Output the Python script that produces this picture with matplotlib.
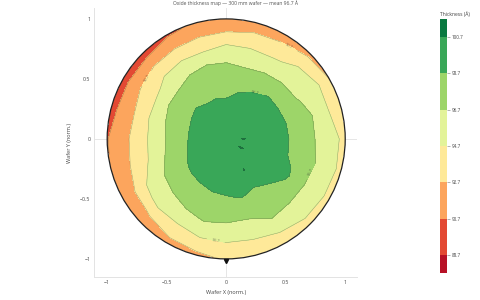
import numpy as np
import matplotlib
matplotlib.use("Agg")
import matplotlib.pyplot as plt
from matplotlib.colors import ListedColormap, BoundaryNorm, Normalize
from matplotlib.patches import Circle

plt.rcParams['font.family'] = ['Open Sans', 'DejaVu Sans']

# ---- data ----
title_text = "Oxide thickness map \u2014 300 mm wafer \u2014 mean 96.7 \u00c5"
levels = [87.7, 88.7, 90.7, 92.7, 94.7, 96.7, 98.7, 100.7, 101.7]
tick_values = [88.7, 90.7, 92.7, 94.7, 96.7, 98.7, 100.7]
angles_deg = [0, 15, 30, 45, 60, 75, 90, 105, 120, 135, 150, 165,
              180, 195, 210, 225, 240, 255, 270, 285, 300, 315, 330, 345]
radii = [0.0, 0.15, 0.3, 0.4, 0.5, 0.6, 0.7, 0.8, 0.9, 0.95, 1.0]
center_thickness = 100.1
ring_thickness = [
    [100.8, 99.35, 99.1, 98.85, 98.3, 97.3, 96.0, 95.4, 94.7, 93.93],
    [99.72, 99.34, 99.08, 98.83, 98.14, 97.4, 96.0, 94.6, 94.37, 93.53],
    [99.7, 99.29, 99.02, 98.75, 97.3, 96.52, 95.9, 94.7, 93.7, 92.7],
    [99.68, 99.26, 98.98, 98.7, 97.16, 96.4, 95.15, 94.3, 93.03, 92.2],
    [99.63, 99.17, 98.86, 98.5, 97.12, 95.95, 94.4, 93.16, 92.39, 91.62],
    [99.58, 99.05, 98.7, 97.93, 96.8, 96.03, 94.37, 93.0, 92.0, 91.3],
    [99.5, 98.9, 98.38, 98.0, 97.09, 95.97, 94.5, 92.56, 91.98, 91.38],
    [99.52, 98.93, 98.41, 97.7, 97.3, 95.7, 93.7, 92.41, 91.69, 90.99],
    [99.53, 98.97, 98.2, 97.66, 96.86, 95.7, 93.78, 92.15, 91.24, 90.4],
    [99.55, 99.0, 98.52, 97.61, 96.3, 95.16, 93.9, 91.81, 90.7, 89.95],
    [99.52, 98.93, 98.3, 97.6, 96.08, 94.3, 93.23, 91.61, 90.7, 89.95],
    [99.48, 98.86, 98.07, 97.02, 95.9, 94.23, 92.7, 91.53, 90.7, 89.95],
    [99.46, 98.83, 98.2, 96.81, 95.31, 94.3, 92.92, 91.56, 91.2, 90.6],
    [99.52, 98.93, 98.28, 97.23, 95.6, 94.45, 93.2, 91.78, 91.3, 90.8],
    [99.56, 99.02, 98.6, 97.3, 96.7, 95.45, 94.4, 92.37, 91.53, 91.2],
    [99.6, 99.1, 98.77, 98.0, 97.13, 95.8, 94.94, 92.8, 92.24, 91.47],
    [99.63, 99.17, 98.86, 98.25, 97.6, 96.35, 94.9, 93.61, 92.7, 91.95],
    [99.66, 99.22, 98.93, 98.51, 97.56, 96.9, 95.41, 94.03, 92.9, 92.4],
    [99.67, 99.24, 98.96, 98.6, 97.3, 96.7, 95.7, 94.13, 93.5, 92.9],
    [99.7, 99.29, 99.02, 98.75, 97.94, 96.6, 95.76, 94.2, 93.87, 93.29],
    [99.72, 100.8, 99.08, 98.5, 98.22, 97.27, 96.4, 94.7, 94.14, 93.59],
    [99.72, 99.34, 99.08, 98.83, 98.27, 97.0, 96.43, 95.4, 94.46, 93.87],
    [100.85, 99.36, 99.12, 98.87, 98.9, 97.46, 96.2, 95.29, 94.7, 94.03],
    [99.73, 99.36, 99.12, 98.87, 98.4, 97.7, 96.38, 95.0, 94.81, 94.13],
]

# ---- build polar grid ----
ang = np.deg2rad(np.array(angles_deg + [angles_deg[0] + 360]))
rad = np.array(radii)
rings = np.array(ring_thickness + [ring_thickness[0]])
Z = np.column_stack([np.full(len(ang), center_thickness), rings])
R, A = np.meshgrid(rad, ang)
X = R * np.cos(A)
Y = R * np.sin(A)

cmap_base = plt.get_cmap('RdYlGn')
nrm = Normalize(levels[0], levels[-1])
band_colors = [cmap_base(nrm((levels[i] + levels[i + 1]) / 2)) for i in range(len(levels) - 1)]
cmap = ListedColormap(band_colors)
bnorm = BoundaryNorm(levels, cmap.N)

fig = plt.figure(figsize=(4.8, 3.0), dpi=100)
ax = fig.add_axes([0.196, 0.077, 0.548, 0.896])
ax.set_xlim(-1.11, 1.10)
ax.set_ylim(-1.15, 1.09)

ax.axhline(0, color='#e6e6e6', lw=0.7, zorder=0)
ax.axvline(0, color='#e6e6e6', lw=0.7, zorder=0)

clip = Circle((0, 0), 1.0, transform=ax.transData, facecolor='none', edgecolor='none')
cf = ax.contourf(X, Y, Z, levels=levels, cmap=cmap, norm=bnorm, zorder=1)
cf.set_clip_path(clip)
cl = ax.contour(X, Y, Z, levels=levels[1:-1], colors='#5a5a3a', linewidths=0.35, alpha=0.55, zorder=2)
cl.set_clip_path(clip)
ax.clabel(cl, fmt='%.1f', fontsize=3.0, colors='#333333', inline=True,
          manual=[(0.5, 0.72), (0.73, -0.28), (-0.09, -0.86), (0.23, 0.33), (-0.66, 0.5)])

ax.add_patch(Circle((0, 0), 1.0, facecolor='none', edgecolor='#222222', lw=0.9, zorder=3))
ax.plot([0], [-1.015], marker='v', color='#111111', markersize=3, zorder=4)

for s in ['top', 'right']:
    ax.spines[s].set_visible(False)
for s in ['left', 'bottom']:
    ax.spines[s].set_color('#e3e3e3')
    ax.spines[s].set_linewidth(0.7)
ax.set_xticks([-1, -0.5, 0, 0.5, 1])
ax.set_xticklabels(['\u22121', '\u22120.5', '0', '0.5', '1'])
ax.set_yticks([-1, -0.5, 0, 0.5, 1])
ax.set_yticklabels(['\u22121', '\u22120.5', '0', '0.5', '1'])
ax.tick_params(length=0, labelsize=3.8, labelcolor='#444444', pad=2.5)
ax.set_xlabel('Wafer X (norm.)', fontsize=4.0, color='#444444', labelpad=3)
ax.set_ylabel('Wafer Y (norm.)', fontsize=4.0, color='#444444', labelpad=6)

fig.text(0.49, 0.998, title_text, ha='center', va='top', fontsize=3.6, color='#555555')

cax = fig.add_axes([0.917, 0.09, 0.0146, 0.847])
cb = fig.colorbar(cf, cax=cax, ticks=tick_values, spacing='proportional')
cb.minorticks_off()
cb.outline.set_visible(False)
cb.ax.tick_params(length=2, width=0.4, color='#777777', labelsize=3.3, labelcolor='#444444', pad=1.5)
cb.ax.set_yticklabels(['%.1f' % v for v in tick_values])
fig.text(0.917, 0.952, 'Thickness (\u00c5)', ha='left', va='center', fontsize=3.6, color='#444444')

fig.savefig('out.png', dpi=100)
